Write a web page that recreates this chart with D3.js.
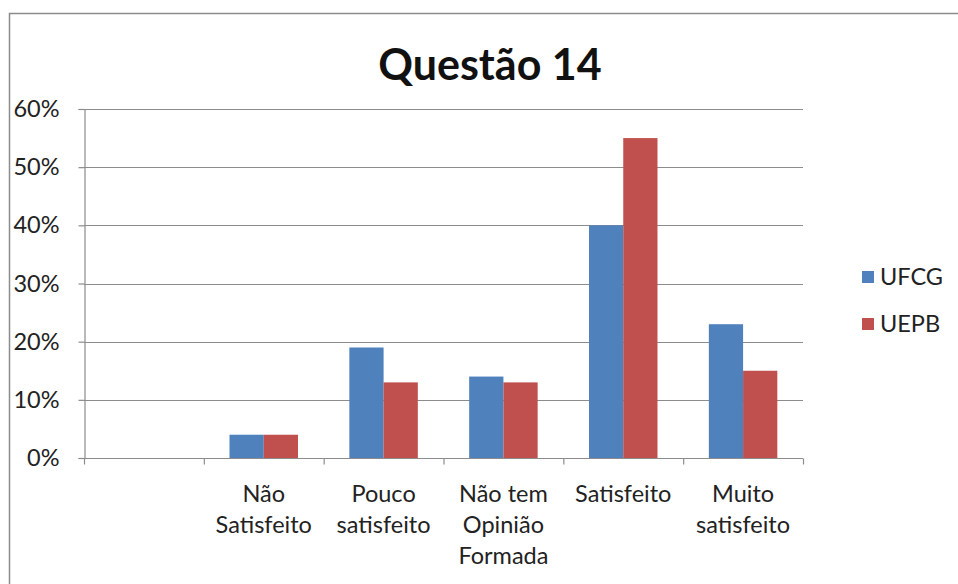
<!DOCTYPE html>
<html><head><meta charset="utf-8">
<script src="https://cdn.jsdelivr.net/npm/d3@7"></script>
<style>html,body{margin:0;padding:0;background:#fff;overflow:hidden}</style>
</head><body>
<svg id="c" width="958" height="584"></svg>
<script>
const categories = ["", "Não\nSatisfeito", "Pouco\nsatisfeito", "Não tem\nOpinião\nFormada", "Satisfeito", "Muito\nsatisfeito"];
const seriesNames = ["UFCG", "UEPB"];
const ufcg = [null, 0.04, 0.19, 0.14, 0.40, 0.23];
const uepb = [null, 0.04, 0.13, 0.13, 0.55, 0.15];
const yTicks = [0, 0.1, 0.2, 0.3, 0.4, 0.5, 0.6];
const colors = ["#4F81BD", "#C0504D"];
const title = "Questão 14";

const svg = d3.select("#c");
const font = "Lato, 'Open Sans', sans-serif";
const fs = 23.5;
svg.append("rect").attr("x", 9.5).attr("y", 13.5).attr("width", 1000).attr("height", 700)
  .attr("fill", "#fff").attr("stroke", "#8c8c8c").attr("stroke-width", 1.5);

const L = 84, R = 803, T = 109, B = 458;
const x = d3.scaleBand().domain(categories.map((d, i) => i)).range([L, R]).paddingInner(0).paddingOuter(0);
const y = d3.scaleLinear().domain([0, 0.6]).range([B, T]);

// gridlines
svg.append("g").selectAll("line").data(yTicks.slice(1)).join("line")
  .attr("x1", L).attr("x2", R).attr("y1", d => Math.round(y(d)) + 0.5).attr("y2", d => Math.round(y(d)) + 0.5)
  .attr("stroke", "#8c8c8c").attr("stroke-width", 1.2);

// y axis
const yAxis = svg.append("g").attr("transform", `translate(${L + 0.5},0)`)
  .call(d3.axisLeft(y).tickValues(yTicks).tickFormat(d3.format(".0%")).tickSize(6).tickPadding(19));
yAxis.select(".domain").attr("stroke", "#8c8c8c").attr("stroke-width", 1.2);
yAxis.selectAll(".tick line").attr("stroke", "#8c8c8c").attr("stroke-width", 1.2);
yAxis.selectAll("text").attr("font-family", font).attr("font-size", fs).attr("fill", "#222");

// bars
const inner = d3.scaleBand().domain([0, 1]).range([0, x.bandwidth()]).paddingInner(0).paddingOuter(0.75);
const series = [ufcg, uepb];
series.forEach((vals, s) => {
  svg.append("g").selectAll("rect").data(vals.map((v, i) => ({v, i})).filter(d => d.v != null)).join("rect")
    .attr("x", d => x(d.i) + inner(s))
    .attr("width", inner.bandwidth())
    .attr("y", d => y(d.v))
    .attr("height", d => B - y(d.v))
    .attr("fill", colors[s]);
});

// x axis
const xAxis = svg.append("g").attr("transform", `translate(0,${B + 0.5})`);
xAxis.append("line").attr("x1", L).attr("x2", R).attr("stroke", "#8c8c8c").attr("stroke-width", 1.2);
xAxis.selectAll("line.t").data(d3.range(categories.length + 1)).join("line").attr("class", "t")
  .attr("x1", i => (i < categories.length ? x(i) : R) + 0.5).attr("x2", i => (i < categories.length ? x(i) : R) + 0.5)
  .attr("y1", 0).attr("y2", 6).attr("stroke", "#8c8c8c").attr("stroke-width", 1.2);
categories.forEach((c, i) => {
  const t = xAxis.append("text").attr("text-anchor", "middle").attr("font-family", font)
    .attr("font-size", fs).attr("fill", "#222");
  c.split("\n").forEach((line, k) => {
    t.append("tspan").attr("x", x(i) + x.bandwidth() / 2).attr("y", 43 + k * 31).text(line);
  });
});

// title
svg.append("text").attr("x", 490).attr("y", 80).attr("text-anchor", "middle")
  .attr("font-family", font).attr("font-weight", "bold").attr("font-size", 43).attr("fill", "#111").text(title);

// legend
const lg = svg.append("g");
seriesNames.forEach((n, i) => {
  const yy = 277 + i * 47;
  lg.append("rect").attr("x", 862).attr("y", yy - 6).attr("width", 12).attr("height", 12).attr("fill", colors[i]);
  lg.append("text").attr("x", 880).attr("y", yy + 8).attr("font-family", font).attr("font-size", fs).attr("fill", "#222").text(n);
});
</script>
</body></html>
